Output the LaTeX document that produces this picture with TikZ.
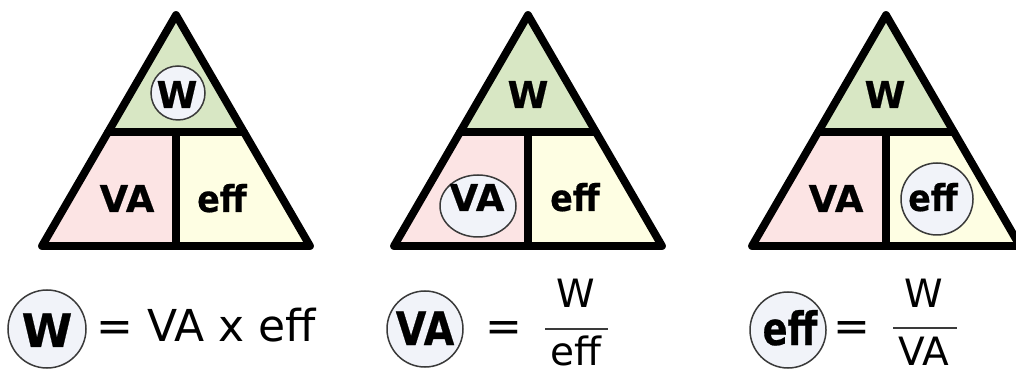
\documentclass[tikz,border=0pt]{standalone}
\usepackage{fontspec}
\usepackage{graphicx}
\setmainfont{DejaVu Sans}
\newfontfamily\heavyfont[FakeBold=0.5]{DejaVu Sans Bold}
\usetikzlibrary{calc}
\definecolor{topgreen}{HTML}{D8E7C4}
\definecolor{lpink}{HTML}{FCE4E4}
\definecolor{lyellow}{HTML}{FEFEE3}
\definecolor{cfill}{HTML}{F1F3F9}
\definecolor{cline}{HTML}{3A3A3A}
\newcommand{\sqz}[2]{\scalebox{#1}[1]{#2}}
\begin{document}
\begin{tikzpicture}[x=0.5pt,y=-0.5pt,
  tri/.style={line width=3.9pt,line join=round,line cap=round},
  circ/.style={fill=cfill,draw=cline,line width=0.75pt},
  tb/.style={inner sep=0pt,font=\heavyfont\fontsize{18.5pt}{20pt}\selectfont},
  bb/.style={inner sep=0pt,font=\heavyfont\fontsize{23pt}{25pt}\selectfont},
  reg/.style={inner sep=0pt,font=\fontsize{22pt}{24pt}\selectfont},
  fr/.style={inner sep=0pt,font=\fontsize{19.5pt}{21pt}\selectfont},
  frac/.style={draw=cline,line width=1pt}]
\useasboundingbox (0,0) rectangle (1016,373);
\fill[white] (0,0) rectangle (1016,373);
\foreach \n/\cx in {a/176,b/528,c/886}{
  \coordinate (\n-top) at (\cx,15);
  \coordinate (\n-bl) at (\cx-134,246);
  \coordinate (\n-br) at (\cx+134,246);
  \coordinate (\n-ml) at ($(\n-top)!0.5065!(\n-bl)$);
  \coordinate (\n-mr) at ($(\n-top)!0.5065!(\n-br)$);
  \coordinate (\n-mc) at ($(\n-ml)!0.5!(\n-mr)$);
  \coordinate (\n-bc) at (\cx,246);
  \fill[topgreen] (\n-top) -- (\n-ml) -- (\n-mr) -- cycle;
  \fill[lpink] (\n-ml) -- (\n-mc) -- (\n-bc) -- (\n-bl) -- cycle;
  \fill[lyellow] (\n-mc) -- (\n-mr) -- (\n-br) -- (\n-bc) -- cycle;
  \draw[tri] (\n-top) -- (\n-bl) -- (\n-br) -- cycle;
  \draw[tri] (\n-ml) -- (\n-mr);
  \draw[tri] (\n-mc) -- (\n-bc);
}
% triangle 1
\filldraw[circ] (178,93) circle [radius=27];
\node[tb,anchor=base] (t1w) at (177,108) {W};
\node[tb,anchor=base] (t1va) at (127,212) {VA};
\node[tb,anchor=base] (t1eff) at (222,212) {\sqz{0.9}{eff}};
% triangle 2
\filldraw[circ] (478,206) ellipse [x radius=38, y radius=31];
\node[tb,anchor=base] (t2w) at (528,108) {W};
\node[tb,anchor=base] (t2va) at (477,211) {VA};
\node[tb,anchor=base] (t2eff) at (575,211) {\sqz{0.9}{eff}};
% triangle 3
\filldraw[circ] (937,199) circle [radius=36];
\node[tb,anchor=base] (t3w) at (885,108) {W};
\node[tb,anchor=base] (t3va) at (836,212) {VA};
\node[tb,anchor=base] (t3eff) at (933,211) {\sqz{0.9}{eff}};
% formula 1
\filldraw[circ] (47,329) circle [radius=39];
\node[bb,anchor=base] (f1w) at (47,347) {W};
\node[reg,anchor=base west] (f1r) at (96,342) {= VA x eff};
% formula 2
\filldraw[circ] (425,329) circle [radius=38];
\node[bb,anchor=base] (f2va) at (425,345) {\sqz{0.86}{VA}};
\node[reg,anchor=base] (f2eq) at (504,342) {=};
\node[fr,anchor=base] (f2n) at (576,307) {W};
\coordinate (f2l) at (545,329);
\coordinate (f2r) at (608,329);
\draw[frac] (f2l) -- (f2r);
\node[fr,anchor=base] (f2d) at (576,365) {eff};
% formula 3
\filldraw[circ] (788,330) circle [radius=38];
\node[bb,anchor=base] (f3eff) at (790,345) {\sqz{0.8}{eff}};
\node[reg,anchor=base] (f3eq) at (852,342) {=};
\node[fr,anchor=base] (f3n) at (924,307) {W};
\coordinate (f3l) at (893,328);
\coordinate (f3r) at (957,328);
\draw[frac] (f3l) -- (f3r);
\node[fr,anchor=base] (f3d) at (924,365) {VA};
\end{tikzpicture}
\end{document}
